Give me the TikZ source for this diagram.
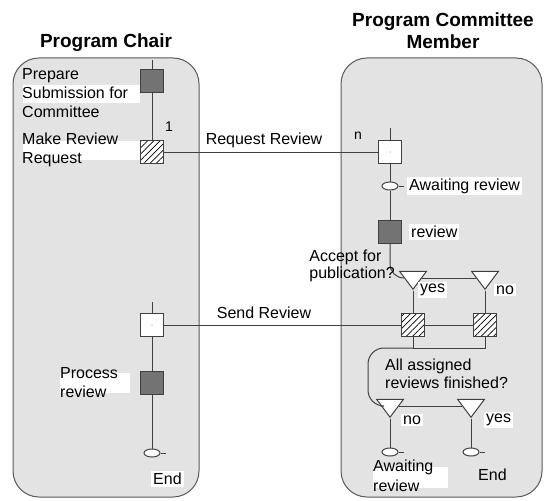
\documentclass[tikz,border=0pt]{standalone}
\usepackage{fontspec}
\setmainfont{Liberation Sans}
\usetikzlibrary{shapes.geometric,patterns.meta}

\tikzset{
  lane/.style={draw=black!65,fill=black!11,line width=1pt,rounded corners=26pt},
  flow/.style={draw=black!75,line width=1pt},
  state/.style={rectangle,draw=black!75,line width=1pt,fill=white,minimum size=23pt,inner sep=0pt},
  task/.style={state,fill=black!55},
  fork/.style={state,preaction={fill=white},pattern={Lines[angle=45,distance=4.4pt,line width=0.7pt]}},
  choice/.style={isosceles triangle,isosceles triangle stretches,shape border rotate=270,
    draw=black!75,fill=white,line width=1pt,inner sep=0pt,minimum width=27pt,minimum height=18pt},
  wait/.style={ellipse,draw=black!75,fill=white,line width=1pt,minimum width=16pt,minimum height=8pt,inner sep=0pt},
  title/.style={font=\fontsize{19}{22}\selectfont\bfseries,align=center},
  lbl/.style={font=\fontsize{16}{19}\selectfont,inner sep=1pt,align=left},
  tag/.style={lbl,fill=white,inner sep=2pt},
  mult/.style={font=\fontsize{14}{16}\selectfont,inner sep=0pt},
}

\begin{document}
\begin{tikzpicture}[x=1pt,y=-1pt]
  \useasboundingbox (0,0) rectangle (545,500);

  % draw the swimlanes
  \draw[lane] (13,58) rectangle (199,497);
  \draw[lane] (341,58) rectangle (542,497);
  \node[title] (chair) at (106,43) {Program Chair};
  \node[title] (member) at (443,31) {Program Committee\\Member};

  % white boxes behind the labels
  \fill[white] (23,85) rectangle (140,103);
  \fill[white] (23,141) rectangle (140,160);
  \fill[white] (60,373) rectangle (130,393);
  \fill[white] (373,467) rectangle (448,488);

  % program chair
  \coordinate (c0) at (152,60);
  \node[task] (prep) at (152,81) {};
  \node[fork] (req) at (152,152) {};
  \coordinate (c1) at (152,302);
  \node[state] (send) at (152,325) {};
  \node[task] (proc) at (152,383) {};
  \node[wait] (cend) at (152,453) {};

  % committee member
  \coordinate (m0) at (390,128);
  \node[state] (recv) at (390,152) {};
  \node[wait] (await) at (390,186) {};
  \node[task] (rev) at (390,232) {};
  \node[choice] (acc) at (413,278) {};
  \node[choice] (rej) at (485,278) {};
  \node[fork] (jy) at (413,325) {};
  \node[fork] (jn) at (485,325) {};
  \coordinate (mj) at (413,348);
  \coordinate (nj) at (485,348);
  \node[choice] (more) at (390,406) {};
  \node[choice] (done) at (471,406) {};
  \node[wait] (again) at (390,452) {};
  \node[wait] (mend) at (471,452) {};
  \fill[black!60] (send) circle (0.5pt) (recv) circle (0.5pt);

  % connectors
  \draw[flow] (c0) -- (prep) -- (req);
  \draw[flow] (c1) -- (send) -- (proc) -- (cend);
  \draw[flow] (req) -- (recv);
  \draw[flow] (send) -- (jy);
  \draw[flow] (m0) -- (recv) -- (await) -- (rev);
  \draw[flow] (rev) -- (390,264) to[out=-90,in=180] (acc);
  \draw[flow] (acc) -- (rej);
  \draw[flow] (acc) -- (jy);
  \draw[flow] (rej) -- (jn);
  \draw[flow] (jy) -- (jn);
  \draw[flow] (jy) -- (mj) -- (nj) -- (jn);
  \draw[flow,rounded corners=16pt] (mj) -- (368,348) -- (368,406) -- (more);
  \draw[flow] (more) -- (done);
  \draw[flow] (more) -- (again);
  \draw[flow] (done) -- (mend);
  \foreach \e in {cend,await,again,mend}
    \draw[flow] (\e.east) -- ++(5,0);

  % labels
  \node[lbl,anchor=west] (prep-l) at (21,93) {Prepare\\Submission for\\Committee};
  \node[lbl,anchor=west] (req-l) at (21,150) {Make Review\\Request};
  \node[mult] (one) at (169,127) {1};
  \node[mult] (many) at (358,136) {n};
  \node[lbl] (req-t) at (264,140) {Request Review};
  \node[lbl] (send-t) at (264,313) {Send Review};
  \node[tag,anchor=west] (await-l) at (407,186) {Awaiting review};
  \node[tag,anchor=west] (rev-l) at (409,232) {review};
  \node[lbl,anchor=east,font=\fontsize{16}{17}\selectfont] (acc-l) at (396,266) {Accept for\\publication?};
  \node[tag,anchor=west] (yes1) at (418,290) {yes};
  \node[tag,anchor=west] (no1) at (494,290) {no};
  \node[lbl,anchor=west,font=\fontsize{16}{18}\selectfont] (more-l) at (384,374) {All assigned\\reviews finished?};
  \node[tag,anchor=west] (no2) at (401,420) {no};
  \node[tag,anchor=west] (yes2) at (484,420) {yes};
  \node[lbl,anchor=west,font=\fontsize{16}{20}\selectfont] (again-l) at (372,476) {Awaiting\\review};
  \node[lbl,anchor=west] (mend-l) at (477,475) {End};
  \node[lbl,anchor=west] (proc-l) at (59,383) {Process\\review};
  \node[tag,anchor=west] (cend-l) at (151,479) {End};
\end{tikzpicture}
\end{document}
